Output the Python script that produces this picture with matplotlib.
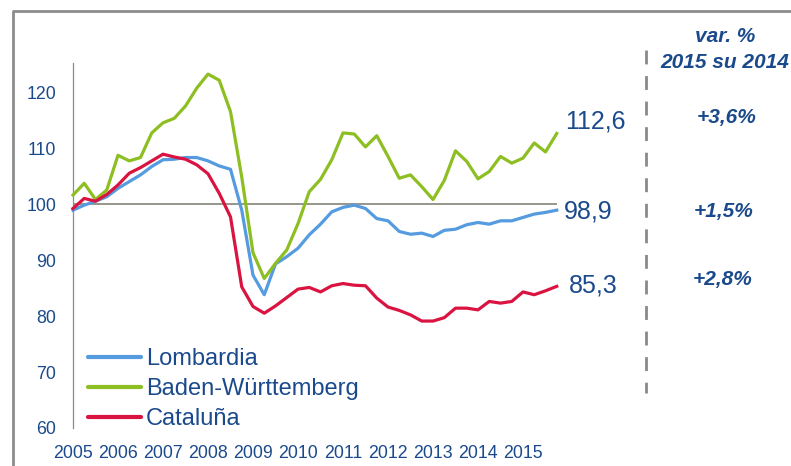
import matplotlib
matplotlib.use("Agg")
import matplotlib.pyplot as plt
from matplotlib.lines import Line2D
import numpy as np

plt.rcParams['font.family'] = ['Liberation Sans', 'DejaVu Sans']

# Quarterly index, 2005Q1 .. 2015Q4
years = [str(y) for y in range(2005, 2016)]
lombardia = [98.9, 99.8, 100.5, 101.3, 102.8, 104.0, 105.2, 106.7, 107.9, 108.0, 108.3,
             108.3, 107.7, 106.8, 106.2, 98.9, 87.3, 83.8, 89.3, 90.6, 92.1, 94.5,
             96.4, 98.6, 99.4, 99.8, 99.2, 97.4, 97.0, 95.1, 94.6, 94.8, 94.2,
             95.3, 95.5, 96.3, 96.7, 96.4, 97.0, 97.0, 97.6, 98.2, 98.5, 98.9]
baden = [101.6, 103.7, 100.8, 102.5, 108.7, 107.7, 108.3, 112.7, 114.5, 115.3, 117.5,
         120.7, 123.2, 122.1, 116.5, 104.8, 91.3, 86.7, 89.4, 91.8, 96.5, 102.2,
         104.4, 107.9, 112.7, 112.5, 110.2, 112.2, 108.5, 104.6, 105.2, 103.1, 100.8,
         104.2, 109.5, 107.6, 104.5, 105.8, 108.5, 107.3, 108.2, 110.9, 109.3, 112.6]
cataluna = [99.2, 101.0, 100.5, 101.7, 103.4, 105.5, 106.5, 107.7, 108.9, 108.4, 108.0,
            107.0, 105.4, 101.9, 97.7, 85.2, 81.7, 80.5, 81.8, 83.3, 84.8, 85.1,
            84.3, 85.4, 85.8, 85.5, 85.4, 83.2, 81.6, 81.0, 80.2, 79.1, 79.1,
            79.7, 81.4, 81.4, 81.1, 82.6, 82.3, 82.6, 84.3, 83.8, 84.5, 85.3]
series_names = ['Lombardia', 'Baden-Württemberg', 'Cataluña']
var_labels = ['+3,6%', '+1,5%', '+2,8%']
yticks = [60, 70, 80, 90, 100, 110, 120]

TXT = '#1B4A8C'
colors = ['#559BE0', '#8DBE22', '#DA1441']

W, H = 791, 466
fig = plt.figure(figsize=(W / 100, H / 100), dpi=100)

def fx(px):
    return px / W

def fy(py):
    return 1 - py / H

ax_left, ax_right, ax_top, ax_bot = 73, 556.75, 62.9, 428
ax = fig.add_axes([fx(ax_left), fy(ax_bot), (ax_right - ax_left) / W, (ax_bot - ax_top) / H])
ax.set_facecolor('none')

x = np.arange(len(lombardia))
ax.axhline(100, color='#8E8E84', lw=1.3, zorder=1)
for data, name, c in zip([lombardia, baden, cataluna], series_names, colors):
    ax.plot(x, data, color=c, lw=2.3, label=name, clip_on=False, zorder=3,
            solid_joinstyle='round')

ax.set_xlim(0, len(lombardia) - 1)
ax.set_ylim(60, 125.2)
ax.set_yticks(yticks)
ax.set_yticklabels([str(v) for v in yticks])
ax.set_xticks(np.arange(0, len(lombardia), 4))
ax.set_xticklabels(years)
ax.tick_params(axis='both', length=0, labelsize=12.8, labelcolor=TXT)
ax.tick_params(axis='y', pad=12)
ax.tick_params(axis='x', pad=12)
for s in ['top', 'right', 'bottom']:
    ax.spines[s].set_visible(False)
ax.spines['left'].set_color('#8C8C8C')
ax.spines['left'].set_linewidth(0.9)

# end-of-line value labels
ax.annotate('112,6', xy=(x[-1], baden[-1]), xytext=(8, 12), textcoords='offset pixels',
            ha='left', va='center', fontsize=18, color=TXT, annotation_clip=False)
ax.annotate('98,9', xy=(x[-1], lombardia[-1]), xytext=(7, -1), textcoords='offset pixels',
            ha='left', va='center', fontsize=18, color=TXT, annotation_clip=False)
ax.annotate('85,3', xy=(x[-1], cataluna[-1]), xytext=(12, 1), textcoords='offset pixels',
            ha='left', va='center', fontsize=18, color=TXT, annotation_clip=False)

# legend
leg = ax.legend(loc='upper left', bbox_to_anchor=(fx(88), fy(348)),
                bbox_transform=fig.transFigure, frameon=False, fontsize=17,
                handlelength=2.25, handletextpad=0.2, labelspacing=0.34,
                borderpad=0, borderaxespad=0, labelcolor=TXT)
for ln in leg.get_lines():
    ln.set_linewidth(3)
    ln.set_solid_capstyle('round')

# dashed separator
fig.add_artist(Line2D([fx(645.5), fx(645.5)], [fy(50), fy(393)], color='#8A8A8A',
                      lw=2, linestyle=(0, (5, 4.2))))

# right-hand variation labels
fig.text(fx(725), fy(36), 'var. %', ha='center', va='center', fontsize=15,
         fontweight='bold', fontstyle='italic', color=TXT)
fig.text(fx(725), fy(62), '2015 su 2014', ha='center', va='center', fontsize=15,
         fontweight='bold', fontstyle='italic', color=TXT)
for lab, yy, xx in zip(var_labels, [117, 212, 280], [727, 724, 723]):
    fig.text(fx(xx), fy(yy), lab, ha='center', va='center', fontsize=15,
             fontweight='bold', fontstyle='italic', color=TXT)

# outer frame (partially visible)
fig.add_artist(Line2D([fx(13), fx(13), 1.01], [-0.01, fy(11), fy(11)],
                      color='#8C8C8C', lw=2))

fig.savefig('out.png', dpi=100)
